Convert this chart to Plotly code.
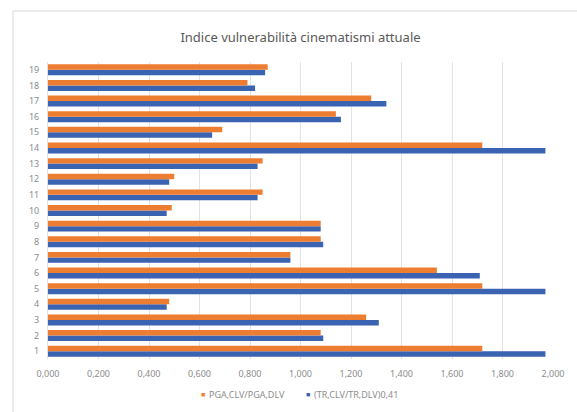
import plotly.graph_objects as go

categories = [str(i) for i in range(1, 20)]
pga_ratio = [1.72, 1.08, 1.26, 0.48, 1.72, 1.54, 0.96, 1.08, 1.08, 0.49,
             0.85, 0.50, 0.85, 1.72, 0.69, 1.14, 1.28, 0.79, 0.87]
tr_ratio = [1.97, 1.09, 1.31, 0.47, 1.97, 1.71, 0.96, 1.09, 1.08, 0.47,
            0.83, 0.48, 0.83, 1.97, 0.65, 1.16, 1.34, 0.82, 0.86]
series_names = ["PGA,CLV/PGA,DLV", "(TR,CLV/TR,DLV)0,41"]
title_text = "Indice vulnerabilità cinematismi attuale"

ORANGE = "#ED7D31"
BLUE = "#3A63B2"
FONT = "Noto Sans"
GREY = "#8C8C8C"

fig = go.Figure()
fig.add_trace(go.Bar(y=categories, x=tr_ratio, orientation="h", name=series_names[1],
                     marker=dict(color=BLUE, line=dict(width=0)), showlegend=False))
fig.add_trace(go.Bar(y=categories, x=pga_ratio, orientation="h", name=series_names[0],
                     marker=dict(color=ORANGE, line=dict(width=0)), showlegend=False))

W, H = 577, 412
L, R, T, B = 48, 24, 62, 53
pw, ph = W - L - R, H - T - B


def px_x(x):
    return (x - L) / pw


def px_y(y):
    return 1 - (y - T) / ph


legend_y = 395
annotations = []
for color, name, mx in [(ORANGE, series_names[0], 203), (BLUE, series_names[1], 308)]:
    annotations.append(dict(text="■", x=px_x(mx), y=px_y(legend_y), xref="paper", yref="paper",
                            xanchor="center", yanchor="middle", showarrow=False,
                            font=dict(family=FONT, size=7, color=color)))
    annotations.append(dict(text=name, x=px_x(mx + 4), y=px_y(legend_y), xref="paper", yref="paper",
                            xanchor="left", yanchor="middle", showarrow=False,
                            font=dict(family=FONT, size=9, color=GREY)))

fig.update_layout(
    width=W, height=H,
    margin=dict(l=L, r=R, t=T, b=B, autoexpand=False),
    paper_bgcolor="white", plot_bgcolor="white",
    separators=",.",
    barmode="group", bargap=0.3, bargroupgap=0,
    showlegend=False,
    font=dict(family=FONT, size=9, color=GREY),
    title=dict(text=title_text, x=0.5, xref="paper", xanchor="center",
               y=1 - 37 / H, yref="container", yanchor="middle",
               font=dict(family=FONT, size=13, color="#595959")),
    xaxis=dict(range=[0, 2], dtick=0.2, tick0=0, tickformat=".3f",
               showgrid=True, gridcolor="#E3E3E3", gridwidth=1,
               zeroline=False, showline=False, ticks="", automargin=False,
               ticklabelstandoff=8,
               tickfont=dict(size=9, color=GREY)),
    yaxis=dict(type="category", showgrid=False, zeroline=False,
               showline=True, linecolor="#E3E3E3", ticks="", automargin=False,
               ticklabelstandoff=6,
               tickfont=dict(size=9, color=GREY)),
    annotations=annotations,
    shapes=[dict(type="rect", xref="paper", yref="paper",
                 x0=px_x(13), x1=px_x(W + 5),
                 y0=px_y(H + 5), y1=px_y(11),
                 line=dict(color="#D9D9D9", width=1), fillcolor="rgba(0,0,0,0)",
                 layer="below")],
)

fig.write_html("out.html")
